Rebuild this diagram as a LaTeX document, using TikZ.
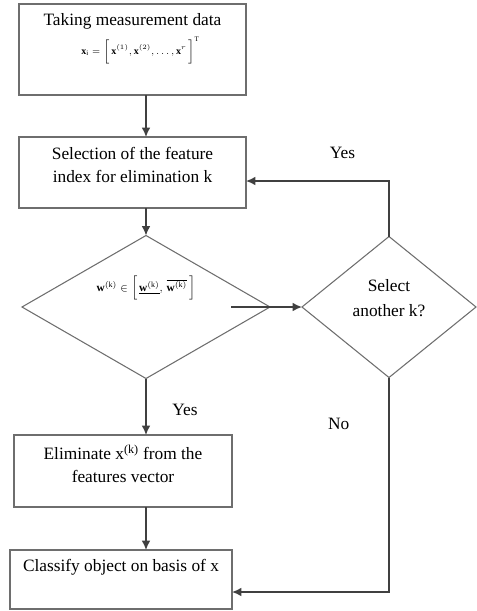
\documentclass[tikz,border=0pt]{standalone}
\usepackage{fontspec}
\setmainfont{Liberation Serif}
\usetikzlibrary{calc,arrows.meta,shapes.geometric}
\definecolor{rahmengrau}{HTML}{6E6E6E}
\definecolor{liniengrau}{HTML}{404040}

\begin{document}
\begin{tikzpicture}[x=0.75pt,y=-0.75pt,
	kasten/.style={draw=rahmengrau,line width=0.8pt,inner sep=0pt,outer sep=0pt},
	raute/.style={kasten,diamond,aspect=1},
	txt/.style={inner sep=0pt,align=center,font=\fontsize{13}{17.6}\selectfont},
	frm/.style={inner sep=0pt,font=\fontsize{7.5}{9}\selectfont},
	pfeil/.style={draw=liniengrau,line width=1.1pt,>={Latex[length=7pt,width=6.5pt]},->}]
	\useasboundingbox (0,0) rectangle (476,611);
	%%Kaesten
	\node[kasten,minimum width=170.25pt,minimum height=68.25pt] (b1) at (132.5,49.5) {};
	\node[kasten,minimum width=170.25pt,minimum height=53.25pt] (b2) at (132.5,172.5) {};
	\node[raute,minimum width=186pt,minimum height=107.25pt] (d1) at (146,307) {};
	\node[raute,minimum width=130.5pt,minimum height=105.75pt] (d2) at (389,307) {};
	\node[kasten,minimum width=163.5pt,minimum height=54pt] (b3) at (123,471) {};
	\node[kasten,minimum width=166.5pt,minimum height=44.25pt] (b4) at (121,579.5) {};
	%%Texte
	\node[txt,anchor=base] (t1) at ($(b1.north)+(0,21)$) {Taking measurement data};
	\node[frm,anchor=base] (f1) at ($(b1.north)+(8,50)$)
		{$\mathbf{x}_{\mathrm{i}}=\Big[\,\mathbf{x}^{(1)},\mathbf{x}^{(2)},\ldots,\mathbf{x}^{r}\,\Big]^{\mathrm{T}}$};
	\node[txt,anchor=north] (t2) at ($(b2.north)+(0,10)$) {Selection of the feature\\index for elimination k};
	\node[frm,anchor=base,font=\fontsize{8.5}{10.5}\selectfont] (f2) at ($(d1.center)+(0,-16)$)
		{$\mathbf{w}^{(\mathrm{k})}\in\Big[\,\underline{\mathbf{w}^{(\mathrm{k})}},\,\overline{\mathbf{w}^{(\mathrm{k})}}\,\Big]$};
	\node[txt,anchor=north] (t3) at ($(d2.center)+(0,-27.5)$) {Select\\[1pt]another k?};
	\node[txt,anchor=north] (t4) at ($(b3.north)+(0,10)$) {Eliminate x\textsuperscript{(k)} from the\\features vector};
	\node[txt,anchor=base] (t5) at ($(b4.north)+(0,21.7)$) {Classify object on basis of x};
	%%Hilfspunkte
	\coordinate (s1) at ($(d1.center)+(85,0)$);
	\coordinate (e2) at ($(b2.east)+(0,8.5)$);
	\coordinate (e4) at ($(b4.east)+(0,12.5)$);
	%%Pfeile
	\draw[pfeil] (b1.south -| d1.north) -- (b2.north -| d1.north);
	\draw[pfeil] (b2.south -| d1.north) -- (d1.north);
	\draw[pfeil] (s1) -- (d2.west);
	\draw[pfeil] (d2.north) |- (e2);
	\draw[pfeil] (d1.south) -- (b3.north -| d1.south);
	\draw[pfeil] (b3.south -| d1.south) -- (b4.north -| d1.south);
	\draw[pfeil] (d2.south) |- (e4);
	%%Beschriftung
	\node[txt,anchor=base] (ja1) at (342.5,158) {Yes};
	\node[txt,anchor=base] (ja2) at (185,415) {Yes};
	\node[txt,anchor=base] (nein) at (338.8,429) {No};
\end{tikzpicture}
\end{document}
